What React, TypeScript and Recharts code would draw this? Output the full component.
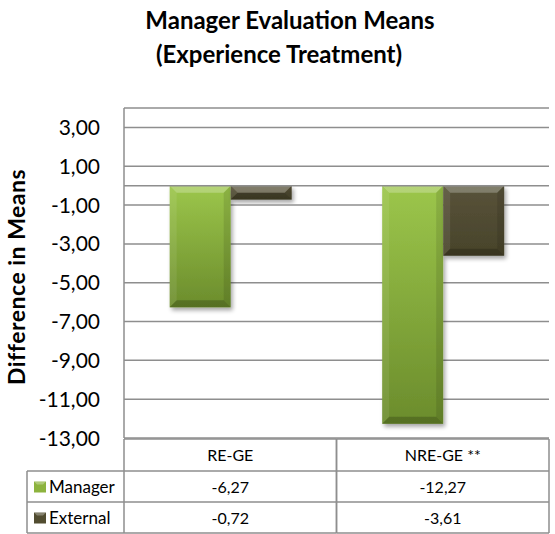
import React from 'react';
import { BarChart, Bar, XAxis, YAxis, CartesianGrid, ReferenceLine } from 'recharts';

const categories = ['RE-GE', 'NRE-GE **'];
const seriesNames = ['Manager', 'External'];
const managerValues = [-6.27, -12.27];
const externalValues = [-0.72, -3.61];
const yTicks = [3, 1, -1, -3, -5, -7, -9, -11, -13];
const yDomain = [-13, 4];
const titleLines = ['Manager Evaluation Means', '(Experience Treatment)'];
const yAxisTitle = 'Difference in Means';

const data = categories.map((c, i) => ({
  category: c,
  Manager: managerValues[i],
  External: externalValues[i],
}));

const W = 555;
const H = 534;
const MARGIN = { top: 108, right: 6, bottom: 0, left: 0 };
const Y_AXIS_W = 124;
const X_AXIS_H = 96;
const COL_W = (W - MARGIN.left - MARGIN.right - Y_AXIS_W) / categories.length;
const PLOT_BOTTOM = H - MARGIN.bottom - X_AXIS_H;
const HEADER_H = 32;
const ROW_H = 31;
const LEGEND_W = 97;
const GRID = '#8e8e8e';
const FONT = 'Lato, "Open Sans", sans-serif';
const Y_LABEL_RIGHT = 100;

const fmt = (v: number) => v.toFixed(2).replace('.', ',');

const COLORS: Record<string, { top: string; bottom: string; base: string }> = {
  Manager: { top: '#9cc64b', bottom: '#6b8c2c', base: '#8db33e' },
  External: { top: '#58533a', bottom: '#48432a', base: '#514c30' },
};

const makeShape = (name: string) => (props: any) => {
  const { x, y, width, height } = props;
  const top = Math.min(y, y + height);
  const h = Math.abs(height);
  const w = width;
  const b = Math.min(7, h / 2, w / 2);
  const gid = `grad-${name}`;
  const fid = `shadow-${name}`;
  const c = COLORS[name];
  return (
    <g>
      <defs>
        <linearGradient id={gid} x1="0" y1="0" x2="0" y2="1">
          <stop offset="0%" stopColor={c.top} />
          <stop offset="100%" stopColor={c.bottom} />
        </linearGradient>
        <filter id={fid} x="-20%" y="-20%" width="150%" height="150%">
          <feGaussianBlur in="SourceAlpha" stdDeviation="2" />
          <feOffset dx="2" dy="3" result="off" />
          <feComponentTransfer>
            <feFuncA type="linear" slope="0.35" />
          </feComponentTransfer>
          <feMerge>
            <feMergeNode />
            <feMergeNode in="SourceGraphic" />
          </feMerge>
        </filter>
      </defs>
      <rect x={x} y={top} width={w} height={h} fill={`url(#${gid})`} filter={`url(#${fid})`} />
      <polygon
        points={`${x},${top} ${x + w},${top} ${x + w - b},${top + b} ${x + b},${top + b}`}
        fill="#ffffff"
        fillOpacity={0.25}
      />
      <polygon
        points={`${x},${top} ${x + b},${top + b} ${x + b},${top + h - b} ${x},${top + h}`}
        fill="#ffffff"
        fillOpacity={0.08}
      />
      <polygon
        points={`${x + w},${top} ${x + w},${top + h} ${x + w - b},${top + h - b} ${x + w - b},${top + b}`}
        fill="#000000"
        fillOpacity={0.1}
      />
      <polygon
        points={`${x},${top + h} ${x + b},${top + h - b} ${x + w - b},${top + h - b} ${x + w},${top + h}`}
        fill="#000000"
        fillOpacity={0.2}
      />
    </g>
  );
};

const seriesValues: Record<string, number[]> = {
  Manager: managerValues,
  External: externalValues,
};

const YTick = (props: any) => {
  const { y, payload } = props;
  return (
    <text
      x={Y_LABEL_RIGHT}
      y={y}
      dy="0.36em"
      textAnchor="end"
      fontFamily={FONT}
      fontSize={21}
      fill="#000"
    >
      {fmt(payload.value)}
    </text>
  );
};

const TableTick = (props: any) => {
  const { x, payload, index } = props;
  const left = x - COL_W / 2;
  const right = x + COL_W / 2;
  const t0 = PLOT_BOTTOM + 1;
  const t1 = t0 + HEADER_H;
  const t2 = t1 + ROW_H;
  const t3 = t2 + ROW_H;
  const rows = [t1, t2];
  const line = { stroke: GRID, strokeWidth: 1.5 };
  const textStyle = { fontFamily: FONT, fontSize: 16, fill: '#000' };
  const legendLeft = left - LEGEND_W;
  return (
    <g>
      <line x1={left} y1={t0} x2={right} y2={t0} {...line} />
      <line x1={left} y1={t1} x2={right} y2={t1} {...line} />
      <line x1={left} y1={t2} x2={right} y2={t2} {...line} />
      <line x1={left} y1={t3} x2={right} y2={t3} {...line} />
      <line x1={left} y1={t0} x2={left} y2={t3} {...line} />
      <line x1={right} y1={t0} x2={right} y2={t3} {...line} />
      <text x={x} y={t0 + HEADER_H / 2 + 6} textAnchor="middle" {...textStyle}>
        {payload.value}
      </text>
      {seriesNames.map((s, i) => (
        <text key={s} x={x} y={rows[i] + ROW_H / 2 + 6} textAnchor="middle" {...textStyle}>
          {fmt(seriesValues[s][index])}
        </text>
      ))}
      {index === 0 && (
        <g>
          <line x1={legendLeft} y1={t1} x2={left} y2={t1} {...line} />
          <line x1={legendLeft} y1={t2} x2={left} y2={t2} {...line} />
          <line x1={legendLeft} y1={t3} x2={left} y2={t3} {...line} />
          <line x1={legendLeft} y1={t1} x2={legendLeft} y2={t3} {...line} />
          {seriesNames.map((s, i) => {
            const cy = rows[i] + ROW_H / 2;
            const c = COLORS[s];
            return (
              <g key={s}>
                <rect x={legendLeft + 7} y={cy - 5} width={12} height={11} fill={c.base} />
                <polygon
                  points={`${legendLeft + 7},${cy - 5} ${legendLeft + 19},${cy - 5} ${legendLeft + 16},${cy - 2} ${legendLeft + 10},${cy - 2}`}
                  fill="#fff"
                  fillOpacity={0.3}
                />
                <text x={legendLeft + 22} y={cy + 6} {...textStyle} fontSize={17}>
                  {s}
                </text>
              </g>
            );
          })}
        </g>
      )}
    </g>
  );
};

export default function App() {
  return (
    <div style={{ position: 'absolute', left: 0, top: 0, width: W, height: H, background: '#fff' }}>
      <BarChart
        width={W}
        height={H}
        data={data}
        margin={MARGIN}
        barCategoryGap="21.5%"
        barGap={0}
      >
        <CartesianGrid vertical={false} stroke={GRID} strokeWidth={1.5} />
        <XAxis
          dataKey="category"
          height={X_AXIS_H}
          axisLine={false}
          tickLine={false}
          interval={0}
          tick={<TableTick />}
        />
        <YAxis
          width={Y_AXIS_W}
          domain={yDomain}
          ticks={yTicks}
          interval={0}
          tickLine={false}
          axisLine={{ stroke: GRID, strokeWidth: 1.5 }}
          tick={<YTick />}
        />
        <ReferenceLine y={0} stroke={GRID} strokeWidth={1.5} />
        {seriesNames.map((s) => (
          <Bar key={s} dataKey={s} isAnimationActive={false} shape={makeShape(s)} />
        ))}
      </BarChart>
      <svg
        width={W}
        height={H}
        style={{ position: 'absolute', left: 0, top: 0, pointerEvents: 'none' }}
      >
        <text x={290} y={29} textAnchor="middle" fontFamily={FONT} fontWeight="bold" fontSize={24} fill="#000">
          {titleLines[0]}
        </text>
        <text x={279} y={63} textAnchor="middle" fontFamily={FONT} fontWeight="bold" fontSize={24} fill="#000">
          {titleLines[1]}
        </text>
        <text
          x={25}
          y={277}
          textAnchor="middle"
          transform="rotate(-90, 25, 277)"
          fontFamily={FONT}
          fontWeight="bold"
          fontSize={23}
          letterSpacing={0.5}
          fill="#000"
        >
          {yAxisTitle}
        </text>
      </svg>
    </div>
  );
}
